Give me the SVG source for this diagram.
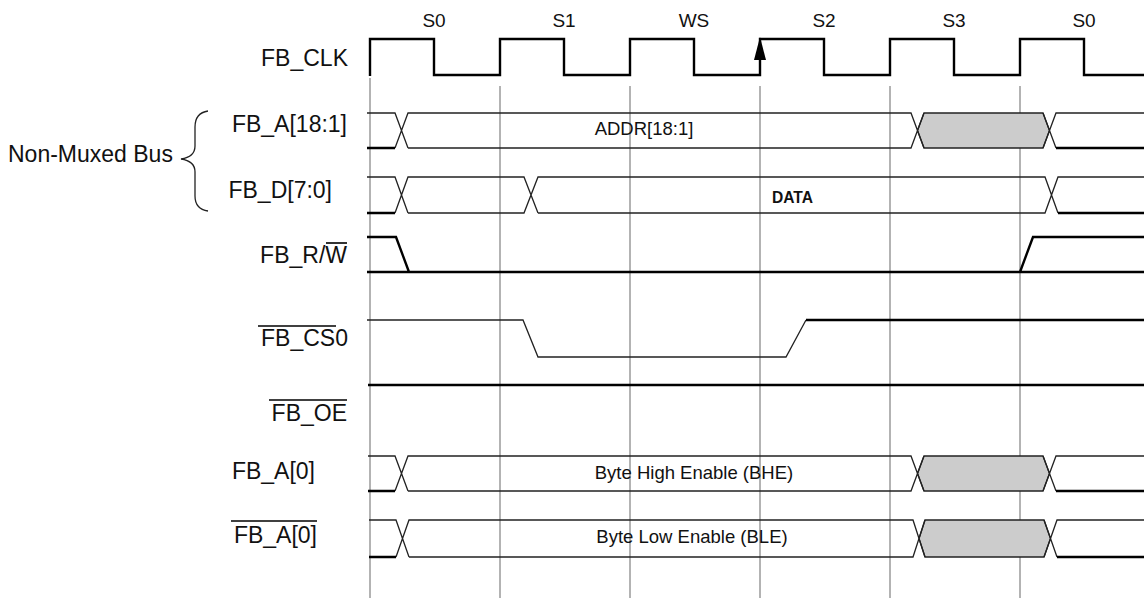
<svg xmlns="http://www.w3.org/2000/svg" width="1144" height="598" viewBox="0 0 1144 598">
<style>
.lbl{font-family:"Liberation Sans",Arial,sans-serif;font-size:23px;fill:#111}
.st{font-family:"Liberation Sans",Arial,sans-serif;font-size:19px;fill:#111;text-anchor:middle}
.in{font-family:"Liberation Sans",Arial,sans-serif;font-size:18.5px;fill:#111;text-anchor:middle}
.grid{stroke:#b3b3b3;stroke-width:2;fill:none}
.thin{stroke:#222;stroke-width:1.3;fill:none}
.thick{stroke:#000;stroke-width:2.4;fill:none}
.gray{fill:#cccccc;stroke:#222;stroke-width:1.3}
.ov{stroke:#000;stroke-width:1.6}
</style>
<rect width="1144" height="598" fill="#fff"/>

<g id="gridlines">
<path class="grid" d="M370,78 V598 M500,86 V598 M630,86 V598 M760,86 V598 M890,86 V598 M1020,86 V598"/>
</g>

<g id="state-labels">
<text class="st" x="434" y="27">S0</text>
<text class="st" x="564" y="27">S1</text>
<text class="st" x="694" y="27">WS</text>
<text class="st" x="824" y="27">S2</text>
<text class="st" x="954" y="27">S3</text>
<text class="st" x="1084" y="27">S0</text>
</g>

<g id="fb-clk">
<text class="lbl" x="348" y="66" text-anchor="end">FB_CLK</text>
<path class="thick" d="M370,76 V39 H434 V75 H500 V39 H564 V75 H630 V39 H694 V75 H760 V39 H824 V75 H890 V39 H954 V75 H1020 V39 H1084 V75 H1144"/>
<polygon points="760,37 754,60 766,60" fill="#000"/>
</g>

<g id="non-muxed-bus">
<text class="lbl" x="8" y="162">Non-Muxed Bus</text>
<path class="thin" d="M208,111 Q195,113 195,127 L195,146 Q195,157 181,159 Q195,161 195,172 L195,196 Q195,209 208,211"/>
</g>

<g id="fb-a-18-1">
<text class="lbl" x="347" y="132" text-anchor="end">FB_A[18:1]</text>
<polygon class="gray" points="917.5,130.5 924,113 1043,113 1049.5,130.5 1043,148 924,148"/>
<path class="thin" d="M367,113 H395 L408,148 M395,148 L408,113 H911 L924,148 M408,148 H911 L924,113 M1043,113 L1056,148 M1043,148 L1056,113 H1144"/>
<path class="thick" d="M367,148 H395 M1056,148 H1144"/>
<text class="in" x="644" y="135">ADDR[18:1]</text>
</g>

<g id="fb-d-7-0">
<text class="lbl" x="332" y="198" text-anchor="end">FB_D[7:0]</text>
<path class="thin" d="M367,177 H395 L408,213 M395,213 L408,177 H524 L538,213 M408,213 H524 L538,177 H1045 L1058,213 M538,213 H1045 L1058,177 H1144"/>
<path class="thick" d="M367,213 H395 M1058,213 H1144"/>
<text x="792.5" y="203" text-anchor="middle" font-family="Liberation Sans, Arial, sans-serif" font-size="17" font-weight="bold" textLength="41" lengthAdjust="spacingAndGlyphs" fill="#111">DATA</text>
</g>

<g id="fb-r-w">
<text class="lbl" x="347" y="263" text-anchor="end">FB_R/W</text>
<line class="ov" x1="326" y1="243" x2="347" y2="243"/>
<path class="thick" d="M367,237 H396 L409,272 M367,272 H1144 M1020,272 L1033,237 H1144"/>
</g>

<g id="fb-cs0">
<text class="lbl" x="348" y="346" text-anchor="end">FB_CS0</text>
<line class="ov" x1="258" y1="326" x2="336" y2="326"/>
<path class="thin" d="M367,320 H523 L538,357 H786 L806,320"/>
<path class="thick" d="M806,320 H1144"/>
</g>

<g id="fb-oe">
<text class="lbl" x="347" y="421" text-anchor="end">FB_OE</text>
<line class="ov" x1="269" y1="400" x2="347" y2="400"/>
<path class="thick" d="M368,385 H1144"/>
</g>

<g id="fb-a0-bhe">
<text class="lbl" x="315" y="479" text-anchor="end">FB_A[0]</text>
<polygon class="gray" points="917.5,473.5 924,456 1043,456 1049.5,473.5 1043,491 924,491"/>
<path class="thin" d="M368,456 H395 L408,491 M395,491 L408,456 H911 L924,491 M408,491 H911 L924,456 M1043,456 L1056,491 M1043,491 L1056,456 H1144"/>
<path class="thick" d="M368,491 H395 M1056,491 H1144"/>
<text class="in" x="694" y="479">Byte High Enable (BHE)</text>
</g>

<g id="fb-a0-ble">
<text class="lbl" x="317" y="543" text-anchor="end">FB_A[0]</text>
<line class="ov" x1="231" y1="521" x2="317" y2="521"/>
<polygon class="gray" points="919,538.5 925,520 1044,520 1050.5,538.5 1044,557 925,557"/>
<path class="thin" d="M369,520 H396 L409,557 M396,557 L409,520 H913 L925,557 M409,557 H913 L925,520 M1044,520 L1057,557 M1044,557 L1057,520 H1144"/>
<path class="thick" d="M369,557 H396 M1057,557 H1144"/>
<text class="in" x="692" y="543">Byte Low Enable (BLE)</text>
</g>
</svg>
